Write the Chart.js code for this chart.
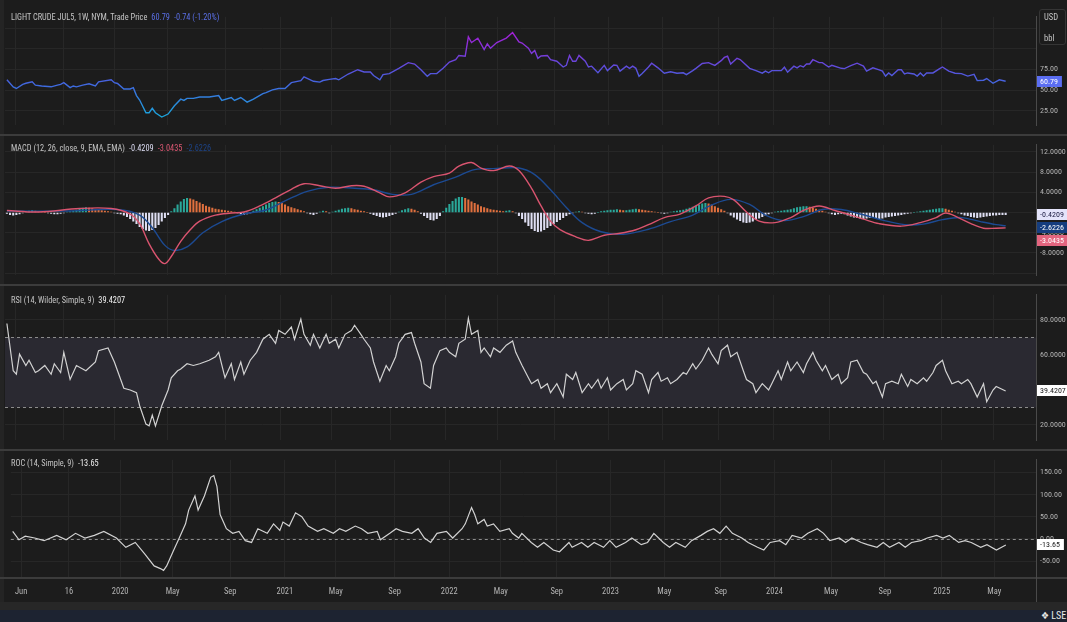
<!DOCTYPE html>
<html><head><meta charset="utf-8">
<script src="https://cdn.jsdelivr.net/npm/chart.js@4.4.1/dist/chart.umd.min.js"></script>
<style>
html,body{margin:0;padding:0;}
body{background:#1c1c1c;width:1067px;height:622px;overflow:hidden;position:relative;
 font-family:"Liberation Sans Narrow","Roboto Condensed","DejaVu Sans Condensed",sans-serif;}
canvas{position:absolute;left:5px;}
.sep{position:absolute;left:0;width:1067px;height:2px;background:#3c3c3c;}
.ttl{position:absolute;left:11px;font-size:8.3px;line-height:10px;color:#c4c4c4;white-space:nowrap;}
.ttl span{margin-left:4px;}
</style></head>
<body>
<div style="position:absolute;left:0;top:0;width:4px;height:602px;background:#242424"></div>
<canvas id="c1" width="1062" height="126" style="top:8px"></canvas>
<canvas id="c2" width="1062" height="148" style="top:136px"></canvas>
<canvas id="c3" width="1062" height="163" style="top:286px"></canvas>
<canvas id="c4" width="1062" height="149" style="top:451px"></canvas>
<div class="sep" style="top:134px"></div>
<div class="sep" style="top:284px"></div>
<div class="sep" style="top:449px"></div>
<div class="sep" style="top:577px"></div>
<div style="position:absolute;left:1036px;top:577px;width:1px;height:25px;background:#4a4a4a"></div>
<div style="position:absolute;left:0;top:602px;width:1067px;height:8px;background:#272727"></div>
<div style="position:absolute;left:0;top:610px;width:1067px;height:12px;background:#1d2331"></div>
<div style="position:absolute;left:1041px;top:610px;font-size:10px;line-height:12px;color:#e8e8e8;white-space:nowrap">&#x2756; LSE</div>
<div style="position:absolute;left:1039px;top:9px;width:27px;height:36px;border:1px solid #353535;border-radius:3px;box-sizing:border-box"></div>
<div style="position:absolute;left:1044px;top:12px;font-size:8.5px;line-height:10px;color:#c4c4c4">USD</div>
<div style="position:absolute;left:1044px;top:33px;font-size:8.5px;line-height:10px;color:#c4c4c4">bbl</div>

<div class="ttl" style="top:12px">LIGHT CRUDE JUL5, 1W, NYM, Trade Price<span style="color:#5a6fe6">60.79</span><span style="color:#5a6fe6">-0.74 (-1.20%)</span></div>
<div class="ttl" style="top:143px">MACD (12, 26, close, 9, EMA, EMA)<span style="color:#dcdcf2">-0.4209</span><span style="color:#dd5873">-3.0435</span><span style="color:#1d4386">-2.6226</span></div>
<div class="ttl" style="top:295px">RSI (14, Wilder, Simple, 9)<span style="color:#f0f0f0">39.4207</span></div>
<div class="ttl" style="top:458px">ROC (14, Simple, 9)<span style="color:#f0f0f0">-13.65</span></div>

<script>
// ---------------- DATA ----------------
const xTickWeeks  = [2.7,17.9,34.2,50.9,69.2,86.6,102.8,121.5,138.9,155.3,173.1,190.2,207.3,225.3,242.4,260.4,277.5,295.6,312.3];
const xTickLabels = ["Jun","16","2020","May","Sep","2021","May","Sep","2022","May","Sep","2023","May","Sep","2024","May","Sep","2025","May"];

const priceWeeks  = [0,2,3,5,6,8,9,11,14,16,17,18,20,21,22,24,26,28,29,33,34,35,37,39,40,41,42,44,45,46,47,49,51,53,55,56,57,59,61,64,67,68,71,72,74,76,78,81,82,84,86,88,90,93,94,97,99,100,102,104,105,108,111,113,115,116,118,119,121,124,127,129,131,133,134,136,138,140,142,143,145,146,147,149,151,152,153,155,158,160,162,163,165,166,167,168,169,171,172,174,176,177,178,179,180,181,183,184,185,187,189,190,192,193,194,196,197,198,199,200,201,203,204,206,208,210,212,214,215,217,218,220,222,223,224,226,227,228,229,231,232,235,237,239,240,241,242,245,246,247,249,250,251,252,253,254,255,257,258,260,261,264,265,267,269,271,272,274,276,277,278,279,280,282,283,284,285,287,288,289,290,291,293,295,296,298,300,302,304,306,307,309,310,312,314,316];
const priceValues = [62.5,53.8,52,57,58.3,60,56,55,54,56,57,59,53,55,54,56,57.6,55,60,62.5,59,58,51.4,51.4,53,43.4,38,22.6,22.6,28,22.6,17.4,21,31,39,37.5,40,40,41.7,41.7,43.4,37.5,41,37.5,41,35.4,39,45.8,47,50.3,52,52,59,61.5,66,60.7,59.7,61.6,63,64,62.5,69.5,74.7,72,72,67.7,62.5,68.7,70,76.4,83.3,81.6,74.7,66.7,70,70,76.4,84,86.8,92,91,114.6,107.6,112.8,99,106,100.7,107.6,113,119.8,108.5,107,100.7,94.5,98,88.5,91.3,92,86.8,85,78,80,92,85,85,92,85,78,79,71,80,73.6,80.5,80,73,79,76.4,79,76.4,66.7,70,78,82.6,77,70.5,72.2,70.5,71,68.7,73.6,76.4,82.3,83.3,81.6,80,85.7,89.6,91,81.6,88.5,87,76.4,73.6,70.5,73,71,73.6,73.6,77.8,71.7,79,77,79.6,78,81.6,81.6,86.8,83.3,83.3,78,80,76.4,76,79.6,82.6,79,73,77,74.6,73,67,70.8,67.7,74.7,74.7,69.5,70.8,69.5,67,70.8,67,70.8,70.8,75.7,78,73,70.5,70,67,69,61.5,62,64,58.3,62.5,60.79];
const priceTicks = [25,50,75,100,125];

const histValues = [
 -0.2,-0.4,-0.5,-0.4,-0.3,-0.1,0.1,0.3,0.4,0.3,0.2,0.1,0.0,-0.1,
 -0.2,-0.3,-0.3,-0.2,-0.1,0.1,0.2,0.3,
 0.5,0.7,0.9,1.0,0.9,0.8,0.6,0.5,0.4,0.3,0.2,0.1,
 -0.1,-0.2,-0.3,-0.5,
 -0.8,-1.2,-1.7,-2.2,-2.8,-3.2,-3.5,-3.6,-3.4,-3.0,-2.4,-1.7,-1.0,-0.4,0.2,
 0.8,1.5,2.1,2.6,2.8,2.7,2.5,2.2,1.9,1.6,1.3,1.1,0.9,0.7,0.6,0.5,0.4,0.3,0.2,0.1,
 -0.1,-0.3,-0.4,-0.3,-0.1,
 0.3,0.6,0.9,1.2,1.5,1.8,2.0,2.1,2.0,1.8,1.5,1.2,1.0,0.8,0.6,0.4,
 0.2,-0.1,-0.3,-0.4,-0.2,0.1,0.3,0.2,-0.1,
 0.1,0.3,0.5,0.7,0.8,0.9,0.8,0.6,0.5,0.3,0.2,0.0,-0.2,
 -0.4,-0.6,-0.8,-0.9,-0.8,-0.6,-0.4,-0.2,0.1,
 0.4,0.6,0.8,0.7,0.5,0.2,-0.2,
 -0.6,-1.0,-1.4,-1.5,-1.2,-0.6,
 0.2,0.9,1.6,2.2,2.7,3.0,3.0,2.8,2.5,
 2.1,1.8,1.5,1.2,1.0,0.8,0.6,0.5,0.4,0.3,
 0.2,0.3,0.4,0.2,-0.1,
 -0.6,-1.2,-1.9,-2.6,-3.2,-3.6,-3.8,-3.7,-3.4,-3.0,-2.6,-2.2,-1.8,-1.4,-1.0,-0.6,
 -0.3,-0.1,0.1,0.2,0.1,-0.1,-0.2,-0.3,-0.2,0.0,0.2,
 0.3,0.4,0.5,0.5,0.6,0.5,0.4,0.4,0.5,0.6,0.7,0.6,0.5,0.4,0.3,0.2,
 0.1,0.0,-0.1,-0.2,-0.1,0.1,0.2,0.3,0.4,0.5,0.7,0.9,
 1.1,1.3,1.5,1.7,1.8,1.7,1.5,1.2,0.9,0.6,0.3,
 -0.1,-0.5,-0.9,-1.3,-1.6,-1.9,-2.0,-1.9,-1.7,-1.4,-1.1,-0.8,-0.5,-0.3,
 -0.1,0.1,0.2,0.3,0.4,0.5,0.6,
 0.8,1.0,1.1,1.2,1.2,1.1,0.9,0.7,0.5,0.3,0.1,-0.1,
 -0.3,-0.4,-0.3,-0.2,-0.3,-0.5,-0.7,
 -0.9,-1.0,-1.1,-1.2,-1.1,-1.0,-0.9,-1.0,-1.2,-1.1,-0.9,-0.8,-0.7,-0.6,-0.5,-0.4,-0.3,-0.2,-0.1,0.0,0.1,0.2,0.3,0.4,0.5,
 0.6,0.7,0.8,0.8,0.7,0.5,0.3,0.1,
 -0.1,-0.3,-0.5,-0.6,-0.8,-0.9,-1.0,-0.9,-0.8,-0.7,-0.6,-0.5,-0.5,-0.4,-0.4,-0.4209
];
const macdWeeks  = [0,10,23,33,39,42,45,48,50,52,55,58,61,66,71,75,80,85,90,94,99,104,109,113,118,121,126,131,135,140,143,147,150,154,159,162,166,169,172,175,180,184,189,194,199,203,208,213,218,222,227,230,234,238,243,248,252,257,262,267,271,276,283,289,294,297,301,305,309,313,316];
const macdValues = [0.4,0.1,0.8,0.8,-0.3,-2.2,-6.2,-9.2,-10.1,-8.7,-5.7,-3.4,-1.7,-0.5,-0.1,0.1,1.3,2.9,4.6,5.7,5.3,4.8,5.3,5.2,3.9,3.1,3.9,6,7.1,7.8,9.2,9.9,8.8,8.3,9.2,8.3,4.8,1.3,-1.7,-3.4,-4.8,-5.5,-4.5,-4.1,-3.4,-2.4,-1,-0.3,1.3,2.9,3.2,2.5,0.1,-1.7,-2,-1,0.4,1.3,0.4,-0.5,-1.3,-2.2,-2.7,-2,-1,-0.1,-1,-2.2,-3.1,-3.1,-3.0435];
const signalWeeks  = [0,20,35,42,46,50,53,57,62,68,75,82,88,95,102,110,116,122,128,135,142,148,155,162,167,172,177,182,188,195,203,210,217,223,229,235,240,246,252,258,264,270,277,284,290,296,302,308,313,316];
const signalValues = [0.3,0.3,0.6,-0.5,-3.0,-6.5,-7.5,-6.8,-4,-1.8,-0.3,0.5,2.3,4.2,5.0,4.8,4.5,3.6,3.6,5.5,7.0,8.5,8.7,8.8,7.5,4.5,1.0,-2,-3.8,-4.3,-3.3,-1.8,-0.5,1.5,2.6,1.6,-0.5,-1.6,-0.8,0.6,0.6,-0.3,-1.5,-2.4,-2.3,-1.4,-1.0,-1.8,-2.4,-2.6226];
const macdTicks = [12,8,4,0,-4,-8,-12];

const rsiWeeks  = [0,2,3,4,6,7,9,10,12,14,15,17,18,20,22,25,28,29,32,34,36,37,39,41,42,44,45,46,47,49,51,52,54,55,57,59,61,64,66,67,69,71,72,74,75,77,79,81,83,85,86,88,90,91,93,94,96,97,99,101,102,104,105,107,109,110,112,113,115,116,118,120,121,123,124,126,128,129,131,132,134,135,137,139,140,142,143,145,146,147,149,150,151,153,154,156,158,160,161,163,165,166,168,169,171,172,174,176,177,179,180,182,184,185,187,188,190,191,193,195,196,198,199,201,203,204,206,207,209,210,212,214,215,217,218,220,222,223,225,226,228,229,231,233,234,236,237,239,241,242,244,245,247,248,250,252,253,255,256,258,259,261,263,264,266,267,269,271,272,274,275,277,278,280,282,283,285,286,288,290,291,293,294,296,297,299,301,302,304,305,307,309,310,312,313,316];
const rsiValues = [78,51,49,60.5,54,57,50,51,54,49,55,50,61.5,46,54,51,56,62.5,64,56,46,41,40,38.5,31,20.5,19.5,25.6,19.5,31,40,47,51,52,55,54,55,57,59,61.5,47,55,46,56,49,57,61.5,69,71.8,66.7,74,71.8,76,69,80.5,71.8,65.6,71.8,64,71.8,66.7,69,64,71.8,74,77,71.8,69,64,56,45,54,51,59,66.7,71.8,72.8,66.7,56,43.6,41,54,62.5,64,61.5,59,66.7,69,81,71.8,74,61.5,64,59,64,61.5,65.6,68,61.5,54,47,43.6,46,41,43.6,38.5,43.6,36,49,46,50,38.5,43.6,41,46,41,47,40,43.6,46,40,43.6,51,49,38.5,46,50,45,47,43.6,46,50,49,55,52,57,64,60.5,55,62.5,65.6,59,61.5,51,46,43.6,38.5,43.6,40,43.6,51,46,56,51,56,50,55,61.5,57,51,54,46,49,43.6,47,56,57,50,49,43.6,45,36,43.6,45,43.6,49,42,46,43.6,47,45,50,54,57,51,43.6,45,43.6,46,43.6,36,43.6,33.3,40,42,39.4207];
const rsiTicks = [80,60,40,20];

const rocWeeks  = [0,2,4,7,10,14,17,20,23,26,29,33,36,39,42,45,47,48,49,51,53,55,56,58,59,61,63,64,65,66,68,70,72,74,76,78,81,83,85,86,88,90,92,94,97,99,102,104,106,109,111,113,116,117,120,122,124,127,129,131,133,135,138,140,143,144,146,147,148,150,151,153,155,158,159,161,162,165,167,169,172,174,177,178,181,183,185,188,190,192,195,197,200,202,204,207,209,211,214,216,219,221,223,225,227,229,232,234,237,239,241,244,246,248,251,253,256,258,260,263,265,267,270,272,275,277,279,282,284,286,289,291,294,296,298,301,303,305,308,310,313,316];
const rocValues = [17,-2,6,2,-4,8,-2,12.6,2,8,17,2,-19,-8,-34,-61,-67,-71,-61,-29,2,34,65,97,65,97,139,143,118,55,23,12.6,17,-4,-8,23,12.6,34,19,38,29,59,50,29,17,23,12.6,23,17,29,23,12.6,17,-2,12.6,23,17,12.6,23,2,-8,12.6,17,2,23,34,71,55,34,44,29,34,17,23,12.6,2,12.6,-8,-19,-8,-25,-29,-8,-19,-8,-19,-8,-19,-4,-19,-8,2,-13,-8,12.6,-8,-19,-8,-19,-4,8,17,23,12.6,29,12.6,2,-8,-19,-25,-8,-4,-13,8,2,12.6,23,12.6,-4,2,-8,2,-8,-13,-19,-8,-19,-8,-19,-8,-4,2,8,2,8,-8,-4,-8,-19,-13,-25,-13.65];
const rocTicks = [150,100,50,0,-50];

// ---------------- STYLE / HELPERS ----------------
const FONT = '"Liberation Sans Narrow","Roboto Condensed","DejaVu Sans Condensed",sans-serif';
const GRID = '#272727';
const TXT = '#b4b4b4';
const X_MIN = -0.6, X_MAX = 325.6;

const panelDeco = {
  id: 'panelDeco',
  beforeDatasetsDraw(chart, args, o) {
    const {ctx, chartArea: a, scales: {y}} = chart;
    if (o.band) {
      const yt = y.getPixelForValue(o.band[1]), yb = y.getPixelForValue(o.band[0]);
      ctx.save(); ctx.fillStyle = o.bandColor; ctx.fillRect(a.left, yt, a.right - a.left, yb - yt); ctx.restore();
    }
    if (o.dashed) {
      ctx.save(); ctx.strokeStyle = o.dashColor; ctx.lineWidth = 1; ctx.setLineDash([3, 3]);
      o.dashed.forEach(v => { const py = Math.round(y.getPixelForValue(v)) + 0.5;
        ctx.beginPath(); ctx.moveTo(a.left, py); ctx.lineTo(a.right, py); ctx.stroke(); });
      ctx.restore();
    }
  },
  afterDraw(chart, args, o) {
    if (!o.boxes) return;
    const {ctx, chartArea: a, scales: {y}} = chart;
    const bs = o.boxes.map(b => Object.assign({}, b, {py: y.getPixelForValue(b.value)})).sort((p, q) => p.py - q.py);
    ctx.save();
    ctx.font = '8px ' + FONT;
    let prev = -1e9;
    bs.forEach(b => {
      const py = Math.max(b.py, prev + 13); prev = py;
      const w = b.full ? (chart.width - a.right - 1) : ctx.measureText(b.text).width + 7;
      ctx.fillStyle = b.bg; ctx.fillRect(a.right + 1, Math.round(py - 5.5), w, 11);
      ctx.fillStyle = b.fg; ctx.textBaseline = 'middle'; ctx.fillText(b.text, a.right + 4, py + 0.5);
    });
    ctx.restore();
  }
};
Chart.register(panelDeco);

function options({ymin, ymax, yticks, fmt, showX, deco}) {
  return {
    responsive: false, animation: false, devicePixelRatio: 1,
    layout: {padding: 0},
    plugins: {legend: {display: false}, tooltip: {enabled: false}, panelDeco: deco || {}},
    scales: {
      x: {type: 'linear', min: X_MIN, max: X_MAX, offset: false,
        afterBuildTicks: s => { s.ticks = xTickWeeks.map(v => ({value: v})); },
        afterFit: s => { s.height = showX ? 23 : 0; },
        grid: {color: GRID, drawTicks: false, offset: false}, border: {display: false},
        ticks: {display: !!showX, autoSkip: false, maxRotation: 0, color: TXT,
          font: {family: FONT, size: 8.5}, padding: 10, callback: (v, i) => xTickLabels[i]}},
      y: {position: 'right', min: ymin, max: ymax,
        afterBuildTicks: s => { s.ticks = yticks.map(v => ({value: v})); },
        afterFit: s => { s.width = 31; },
        grid: {color: GRID, drawTicks: false}, border: {color: '#4a4a4a'},
        ticks: {color: TXT, font: {family: FONT, size: 8}, padding: 4, callback: fmt}}
    }
  };
}
const pts = (ws, vs) => ws.map((w, i) => ({x: w, y: vs[i]}));

// ---- Price panel ----
function priceGradient(ctx) {
  const ch = ctx.chart;
  if (!ch.chartArea) return '#4a62de';
  const y = ch.scales.y;
  const g = ch.ctx.createLinearGradient(0, y.getPixelForValue(17), 0, y.getPixelForValue(120));
  g.addColorStop(0, '#1aa6da'); g.addColorStop(0.36, '#3d6ce0');
  g.addColorStop(0.56, '#5a50dc'); g.addColorStop(1, '#a41fd6');
  return g;
}
new Chart(document.getElementById('c1'), {
  type: 'line',
  data: {datasets: [{data: pts(priceWeeks, priceValues), borderColor: priceGradient, borderWidth: 1.4, pointRadius: 0, tension: 0}]},
  options: options({ymin: 7.5, ymax: 138.8, yticks: priceTicks,
    fmt: v => (v <= 75 ? v.toFixed(2) : ''),
    deco: {boxes: [{value: priceValues[priceValues.length - 1], text: priceValues[priceValues.length - 1].toFixed(2), bg: '#5b6ef2', fg: '#ffffff'}]}})
});

// ---- MACD panel ----
const histColors = histValues.map((v, i) => v < 0 ? '#dedef2' : (i > 0 && v < histValues[i - 1] ? '#e0703e' : '#2aa89a'));
new Chart(document.getElementById('c2'), {
  type: 'bar',
  data: {datasets: [
    {type: 'line', data: pts(macdWeeks, macdValues), borderColor: '#d9546f', borderWidth: 1.4, pointRadius: 0, tension: 0.35, order: 1},
    {type: 'line', data: pts(signalWeeks, signalValues), borderColor: '#1c4a92', borderWidth: 1.4, pointRadius: 0, tension: 0.35, order: 2},
    {type: 'bar', data: histValues.map((v, i) => ({x: i, y: v})), backgroundColor: histColors, barThickness: 1.4, order: 3}
  ]},
  options: options({ymin: -12.4, ymax: 13.4, yticks: macdTicks,
    fmt: v => (v === -12 ? '' : v.toFixed(4)),
    deco: {boxes: [
      {value: histValues[histValues.length - 1], text: histValues[histValues.length - 1].toFixed(4), bg: '#e4e4fb', fg: '#1a1a40', full: true},
      {value: signalValues[signalValues.length - 1], text: signalValues[signalValues.length - 1].toFixed(4), bg: '#153d7e', fg: '#ffffff', full: true},
      {value: macdValues[macdValues.length - 1], text: macdValues[macdValues.length - 1].toFixed(4), bg: '#e3657f', fg: '#ffffff', full: true}
    ]}})
});

// ---- RSI panel ----
new Chart(document.getElementById('c3'), {
  type: 'line',
  data: {datasets: [{data: pts(rsiWeeks, rsiValues), borderColor: '#d2d2d2', borderWidth: 1.2, pointRadius: 0, tension: 0}]},
  options: options({ymin: 11.3, ymax: 94.4, yticks: rsiTicks,
    fmt: v => v.toFixed(4),
    deco: {band: [30, 70], bandColor: '#2a2931', dashed: [30, 70], dashColor: '#8c8c8c',
      boxes: [{value: rsiValues[rsiValues.length - 1], text: rsiValues[rsiValues.length - 1].toFixed(4), bg: '#ffffff', fg: '#202020', full: true}]}})
});

// ---- ROC panel ----
new Chart(document.getElementById('c4'), {
  type: 'line',
  data: {datasets: [{data: pts(rocWeeks, rocValues), borderColor: '#d2d2d2', borderWidth: 1.2, pointRadius: 0, tension: 0}]},
  options: options({ymin: -86, ymax: 178.6, yticks: rocTicks, showX: true,
    fmt: v => v.toFixed(2),
    deco: {dashed: [0], dashColor: '#8c8c8c',
      boxes: [{value: rocValues[rocValues.length - 1], text: rocValues[rocValues.length - 1].toFixed(2), bg: '#ffffff', fg: '#202020'}]}})
});
</script>
</body></html>
